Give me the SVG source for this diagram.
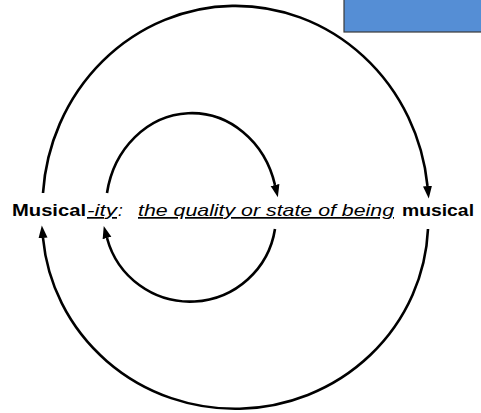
<svg xmlns="http://www.w3.org/2000/svg" width="481" height="413" viewBox="0 0 481 413">
<style>
.arc{fill:none;stroke:#000;stroke-width:2.6;marker-end:url(#ah)}
.t{font-family:"Liberation Sans",Arial,sans-serif;font-size:17px;fill:#000}
.b{font-weight:bold}
.i{font-style:italic}
.u{text-decoration:underline}
</style>
<defs>
<marker id="ah" viewBox="0 -5 13 10" markerWidth="13" markerHeight="10" refX="0" refY="0" orient="auto" markerUnits="userSpaceOnUse">
<path d="M0,-4.5 L12.5,0 L0,4.5 z" fill="#000"/>
</marker>
</defs>
<rect x="0" y="0" width="481" height="413" fill="#fff"/>
<g id="box">
<rect x="344" y="-2" width="140" height="34" fill="#558ED5" stroke="#3a3a3a" stroke-width="1.2"/>
</g>
<g id="connectors">
<path class="arc" d="M43 193 A193 201 0 0 1 427.5 186"/>
<path class="arc" d="M428 229 A193 188 0 0 1 43 238"/>
<path class="arc" d="M107 193 A86 96 0 0 1 275 185"/>
<path class="arc" d="M275 229 A86 86 0 0 1 107 238"/>
</g>
<g id="label">
<text class="t b" x="12" y="216" textLength="74" lengthAdjust="spacingAndGlyphs">Musical</text>
<text class="t i u" x="87" y="216" textLength="30" lengthAdjust="spacingAndGlyphs">-ity</text>
<text class="t i" x="118" y="216">:</text>
<text class="t i u" x="138" y="216" textLength="256" lengthAdjust="spacingAndGlyphs">the quality or state of being</text>
<text class="t b" x="402" y="216" textLength="72" lengthAdjust="spacingAndGlyphs">musical</text>
</g>
</svg>
